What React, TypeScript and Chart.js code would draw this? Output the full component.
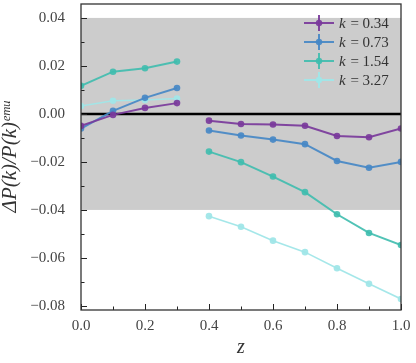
import React, { useEffect, useRef } from "react";
import { Chart, registerables } from "chart.js";
Chart.register(...registerables);

// ---- data ----
const zLow = [0.0, 0.1, 0.2, 0.3];
const zHigh = [0.4, 0.5, 0.6, 0.7, 0.8, 0.9, 1.0];
const kLabels = ["0.34", "0.73", "1.54", "3.27"];
const seriesColors = ["rgba(122,58,155,0.92)", "rgba(70,136,198,0.92)", "rgba(62,188,174,0.9)", "rgba(160,230,232,0.95)"];
const lowK034 = [-0.005, -0.0004, 0.0025, 0.0045];
const highK034 = [-0.0028, -0.0042, -0.0044, -0.0049, -0.0092, -0.0097, -0.0061];
const lowK073 = [-0.0061, 0.0013, 0.0067, 0.0108];
const highK073 = [-0.0069, -0.009, -0.0107, -0.0126, -0.0196, -0.0224, -0.02];
const lowK154 = [0.0117, 0.0176, 0.019, 0.0218];
const highK154 = [-0.0157, -0.0201, -0.0261, -0.0326, -0.0418, -0.0496, -0.0546];
const lowK327 = [0.0033, 0.0055, 0.0058, 0.0064];
const highK327 = [-0.0426, -0.047, -0.0528, -0.0576, -0.0643, -0.0708, -0.0771];
const lowSeries = [lowK034, lowK073, lowK154, lowK327];
const highSeries = [highK034, highK073, highK154, highK327];
const xTicks = [0, 0.2, 0.4, 0.6, 0.8, 1.0];
const xMinorTicks = [0.1, 0.3, 0.5, 0.7, 0.9];
const yTicks = [-0.08, -0.06, -0.04, -0.02, 0, 0.02, 0.04];
const yMinorTicks = [-0.07, -0.05, -0.03, -0.01, 0.01, 0.03];
const bandRange = [-0.04, 0.04];
const yMin = -0.0817;
const yMax = 0.0458;

const SERIF = "'Liberation Serif', 'DejaVu Serif', serif";

const fmt = (v: number, d: number) => {
  const s = Math.abs(v).toFixed(d);
  return (v < -1e-12 ? "\u2212" : "") + s;
};

const decorPlugin = {
  id: "decor",
  beforeDatasetsDraw(chart: any) {
    const { ctx, chartArea: a, scales } = chart;
    const y = scales.y;
    ctx.save();
    const yTop = y.getPixelForValue(bandRange[1]);
    const yBot = y.getPixelForValue(bandRange[0]);
    ctx.fillStyle = "#cccccc";
    ctx.fillRect(a.left, yTop, a.right - a.left, yBot - yTop);
    const y0 = y.getPixelForValue(0);
    ctx.strokeStyle = "#000";
    ctx.lineWidth = 2.5;
    ctx.beginPath();
    ctx.moveTo(a.left, y0);
    ctx.lineTo(a.right, y0);
    ctx.stroke();
    ctx.restore();
  },
  afterDraw(chart: any) {
    const { ctx, chartArea: a, scales } = chart;
    const x = scales.x;
    const y = scales.y;
    ctx.save();
    ctx.strokeStyle = "#222";
    ctx.lineWidth = 1;
    const tick = (px: number, py: number, dx: number, dy: number) => {
      ctx.beginPath();
      ctx.moveTo(px, py);
      ctx.lineTo(px + dx, py + dy);
      ctx.stroke();
    };
    xTicks.forEach((v) => tick(Math.round(x.getPixelForValue(v)) + 0.5, a.bottom, 0, -6));
    xMinorTicks.forEach((v) => tick(Math.round(x.getPixelForValue(v)) + 0.5, a.bottom, 0, -3.5));
    yTicks.forEach((v) => tick(a.left, Math.round(y.getPixelForValue(v)) + 0.5, 6, 0));
    yMinorTicks.forEach((v) => tick(a.left, Math.round(y.getPixelForValue(v)) + 0.5, 3.5, 0));
    ctx.strokeStyle = "#333";
    ctx.lineWidth = 1.3;
    ctx.strokeRect(a.left, a.top, a.right - a.left, a.bottom - a.top);

    // legend
    const lx0 = a.right - 97;
    const rowY = [a.top + 19, a.top + 38, a.top + 57, a.top + 76];
    kLabels.forEach((lab, i) => {
      const cy = rowY[i];
      const col = seriesColors[i];
      ctx.strokeStyle = col;
      ctx.fillStyle = col;
      ctx.lineWidth = 2;
      ctx.beginPath();
      ctx.moveTo(lx0, cy);
      ctx.lineTo(lx0 + 30, cy);
      ctx.moveTo(lx0 + 15, cy - 8);
      ctx.lineTo(lx0 + 15, cy + 8);
      ctx.stroke();
      ctx.beginPath();
      ctx.arc(lx0 + 15, cy, 3.2, 0, Math.PI * 2);
      ctx.fill();
      ctx.fillStyle = "#333";
      ctx.textBaseline = "middle";
      ctx.textAlign = "left";
      ctx.font = "italic 15px " + SERIF;
      const tx = lx0 + 35;
      ctx.fillText("k", tx, cy + 1);
      const kw = ctx.measureText("k").width;
      ctx.font = "15px " + SERIF;
      ctx.fillText(" = " + lab, tx + kw + 1, cy + 1);
    });
    ctx.restore();
  },
};

export default function App() {
  const ref = useRef<HTMLCanvasElement>(null);
  useEffect(() => {
    document.body.style.margin = "0";
    Chart.defaults.font.family = SERIF;
    const datasets: any[] = [];
    kLabels.forEach((lab, i) => {
      const common = {
        label: "k = " + lab,
        borderColor: seriesColors[i],
        backgroundColor: seriesColors[i],
        borderWidth: i === 3 ? 1.6 : 2,
        pointRadius: 3.3,
        pointBorderWidth: 0,
        pointHoverRadius: 3.3,
        showLine: true,
        fill: false,
        tension: 0,
      };
      datasets.push({ ...common, data: zLow.map((z, j) => ({ x: z, y: lowSeries[i][j] })) });
      datasets.push({ ...common, data: zHigh.map((z, j) => ({ x: z, y: highSeries[i][j] })) });
    });
    const zeroPad = (s: any) => {
      s.paddingTop = 0;
      s.paddingBottom = 0;
      s.paddingLeft = 0;
      s.paddingRight = 0;
    };
    const chart = new Chart(ref.current as HTMLCanvasElement, {
      type: "scatter",
      data: { datasets },
      options: {
        animation: false,
        responsive: false,
        events: [],
        layout: { padding: { top: 4, right: 15, left: 0, bottom: 0 } },
        plugins: { legend: { display: false }, tooltip: { enabled: false } },
        scales: {
          x: {
            type: "linear",
            min: 0,
            max: 1,
            afterBuildTicks: (s: any) => {
              s.ticks = xTicks.map((v) => ({ value: v }));
            },
            afterFit: (s: any) => {
              s.height = 53;
              zeroPad(s);
            },
            grid: { display: false, drawTicks: false },
            border: { display: false },
            ticks: {
              padding: 7,
              color: "#444",
              font: { size: 15, family: SERIF },
              callback: (v: any) => fmt(Number(v), 1),
              maxRotation: 0,
            },
            title: {
              display: true,
              text: "z",
              color: "#333",
              font: { size: 20, style: "italic", family: SERIF },
              padding: { top: 0, bottom: 3 },
            },
          },
          y: {
            type: "linear",
            min: yMin,
            max: yMax,
            afterBuildTicks: (s: any) => {
              s.ticks = yTicks.map((v) => ({ value: v }));
            },
            afterFit: (s: any) => {
              s.width = 81;
              zeroPad(s);
            },
            grid: { display: false, drawTicks: false },
            border: { display: false },
            ticks: {
              padding: 16,
              color: "#444",
              font: { size: 15, family: SERIF },
              callback: (v: any) => fmt(Number(v), 2),
            },
            title: {
              display: true,
              text: "\u0394P(k)/P(k)\u1D49\u1D50\u1D58",
              color: "#333",
              font: { size: 21, style: "italic", family: SERIF, lineHeight: 1 },
              padding: { top: 0, bottom: 0 },
            },
          },
        },
      },
      plugins: [decorPlugin],
    } as any);
    return () => chart.destroy();
  }, []);
  return (
    <div style={{ position: "fixed", left: 0, top: 0, width: 416, height: 363, background: "#fff" }}>
      <canvas ref={ref} width={416} height={363} style={{ display: "block", width: 416, height: 363 }} />
    </div>
  );
}
